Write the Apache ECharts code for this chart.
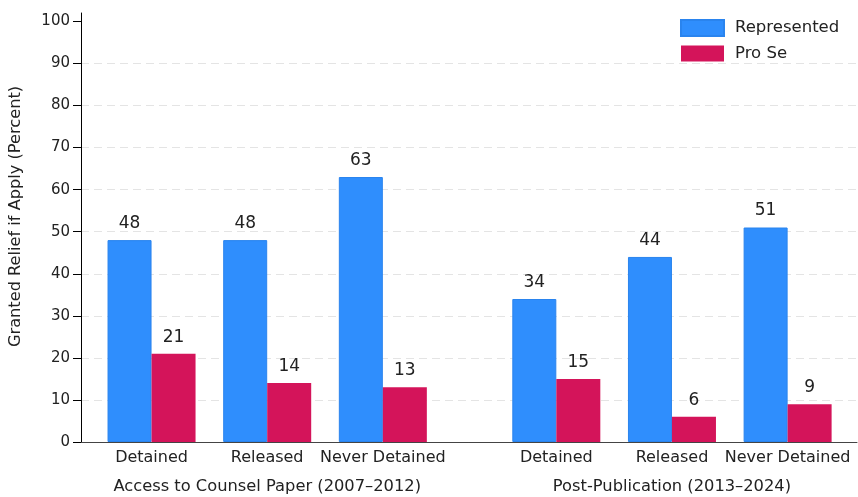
<!DOCTYPE html>
<html>
<head>
<meta charset="utf-8">
<script src="https://cdn.jsdelivr.net/npm/echarts@6/dist/echarts.min.js"></script>
<style>
  html, body { margin: 0; padding: 0; background: #fff; }
  #chart { width: 858px; height: 497px; }
</style>
</head>
<body>
<div id="chart"></div>
<script>
// Grant rates by counsel status and custody, for two study periods
const groupNames = ['Access to Counsel Paper (2007–2012)', 'Post-Publication (2013–2024)'];
const categories = ['Detained', 'Released', 'Never Detained'];
const represented = [48, 48, 63, 34, 44, 51];
const proSe = [21, 14, 13, 15, 6, 9];
const yTicks = [0, 10, 20, 30, 40, 50, 60, 70, 80, 90, 100];

// x positions: categories one unit apart, half-unit gap between the two periods
const groupGap = 0.5;
const xPos = [];
const xName = {};
groupNames.forEach((g, gi) => {
  categories.forEach((c, ci) => {
    const x = gi * (categories.length + groupGap) + ci;
    xPos.push(x);
    xName[x] = c;
  });
});
const groupCenters = groupNames.map((g, gi) => gi * (categories.length + groupGap) + (categories.length - 1) / 2);
const groupName = {};
groupCenters.forEach((x, i) => { groupName[x] = groupNames[i]; });

const font = '"DejaVu Sans", "Noto Sans", sans-serif';
const textColor = '#222';

const chart = echarts.init(document.getElementById('chart'), null, { renderer: 'canvas' });

const labelStyle = {
  show: true,
  position: 'top',
  distance: 8,
  color: textColor,
  fontFamily: font,
  fontSize: 17
};

chart.setOption({
  animation: false,
  textStyle: { fontFamily: font },
  grid: { left: 81, right: 1, top: 13, bottom: 55, containLabel: false },
  legend: {
    orient: 'vertical',
    left: 675,
    top: 14,
    itemWidth: 43,
    itemHeight: 16,
    itemGap: 8,
    icon: 'rect',
    textStyle: { color: textColor, fontFamily: font, fontSize: 16.5, padding: [0, 0, 0, 6] },
    data: ['Represented', 'Pro Se']
  },
  xAxis: [
    {
      type: 'value',
      min: -0.61,
      max: 6.1,
      axisLine: { show: true, onZero: false, lineStyle: { color: '#444', width: 1 } },
      axisTick: { show: false },
      splitLine: { show: false },
      axisLabel: {
        customValues: xPos,
        formatter: v => xName[v] || '',
        color: textColor,
        fontFamily: font,
        fontSize: 16,
        margin: 8
      }
    },
    {
      type: 'value',
      position: 'bottom',
      offset: 29,
      min: -0.61,
      max: 6.1,
      axisLine: { show: false },
      axisTick: { show: false },
      splitLine: { show: false },
      axisLabel: {
        customValues: groupCenters,
        formatter: v => groupName[v] || '',
        color: textColor,
        fontFamily: font,
        fontSize: 16.3,
        margin: 8
      }
    }
  ],
  yAxis: {
    type: 'value',
    min: 0,
    max: 102,
    interval: 10,
    name: 'Granted Relief if Apply (Percent)',
    nameLocation: 'middle',
    nameGap: 57,
    nameTextStyle: { color: textColor, fontFamily: font, fontSize: 16.2, padding: [0, 0, 0, 22] },
    axisLine: { show: true, onZero: false, lineStyle: { color: '#000', width: 1 } },
    axisTick: { show: true, customValues: yTicks, length: 8, lineStyle: { color: '#000' } },
    axisLabel: {
      customValues: yTicks,
      color: textColor,
      fontFamily: font,
      fontSize: 15,
      margin: 11
    },
    splitLine: {
      show: true,
      showMaxLine: false,
      lineStyle: { color: '#e4e4e4', type: [8, 5], width: 1 }
    }
  },
  series: [
    {
      name: 'Represented',
      type: 'bar',
      xAxisIndex: 0,
      barWidth: 44,
      barGap: '0%',
      itemStyle: { color: '#2f8efd', borderColor: '#2a84ee', borderWidth: 1 },
      label: labelStyle,
      data: represented.map((v, i) => [xPos[i], v])
    },
    {
      name: 'Pro Se',
      type: 'bar',
      xAxisIndex: 0,
      barWidth: 44,
      barGap: '0%',
      itemStyle: { color: '#d4145a' },
      label: labelStyle,
      data: proSe.map((v, i) => [xPos[i], v])
    }
  ]
});
</script>
</body>
</html>
